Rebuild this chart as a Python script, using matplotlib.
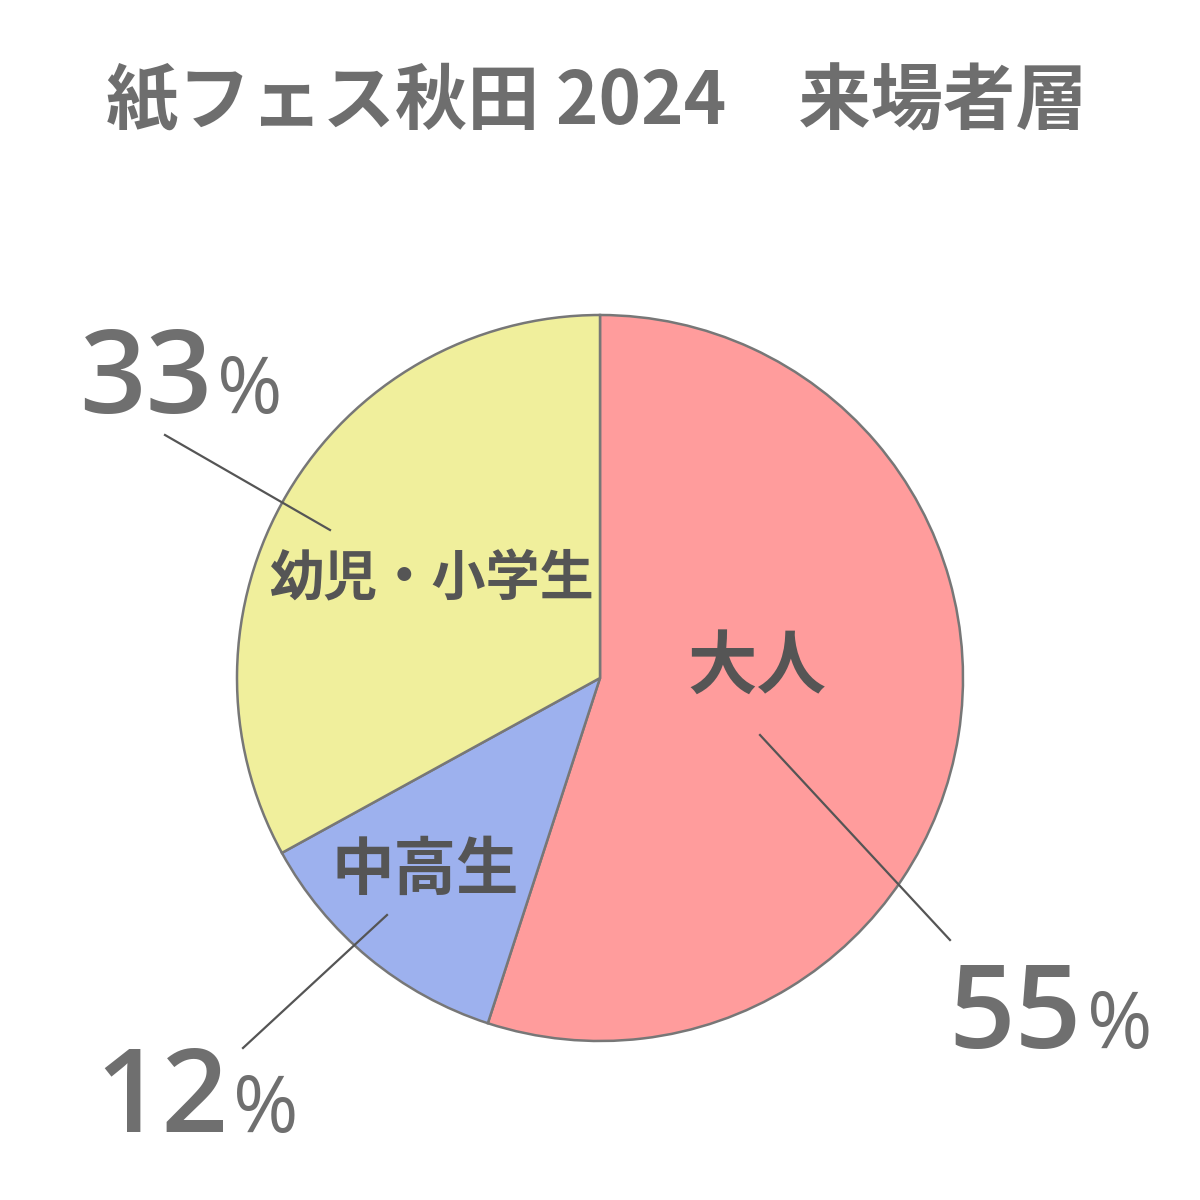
import matplotlib
matplotlib.use('Agg')
import matplotlib.pyplot as plt

# data
categories = ['大人', '中高生', '幼児・小学生']
shares = [55, 12, 33]
colors = ['#FF9C9C', '#9DB1EE', '#F0EF9C']
title = '紙フェス秋田 2024　来場者層'

H = 1200  # canvas in pixels, y measured from top


def Y(y):
    return H - y


fig = plt.figure(figsize=(12, 12), dpi=100)
ax = fig.add_axes([0, 0, 1, 1])

jp = ['Noto Sans CJK JP', 'DejaVu Sans']
num = ['Open Sans', 'DejaVu Sans']

ax.pie(shares, colors=colors, startangle=90, counterclock=False,
       center=(600, Y(678)), radius=363, frame=True,
       wedgeprops=dict(edgecolor='#777777', linewidth=1.8))
ax.set_xlim(0, 1200)
ax.set_ylim(0, 1200)
ax.set_aspect('equal')
ax.axis('off')

# title
ax.text(597, Y(103), title, ha='center', va='center', fontsize=52,
        family=jp, weight='bold', color='#6e6e6e')

# labels inside the slices
ax.text(757, Y(667), categories[0], ha='center', va='center', fontsize=50,
        family=jp, weight='bold', color='#555555')
ax.text(425, Y(870), categories[1], ha='center', va='center', fontsize=45,
        family=jp, weight='bold', color='#555555')
ax.text(431, Y(580), categories[2], ha='center', va='center', fontsize=39,
        family=jp, weight='bold', color='#555555')

# percentage labels: (right edge of digits, baseline)
pct_pos = [(1082, 1048), (228, 1132), (212, 413)]
for v, (x, y) in zip(shares, pct_pos):
    ax.text(x, Y(y), str(v), ha='right', va='baseline', fontsize=84,
            family=num, weight='semibold', color='#6f6f6f')
    ax.text(x + 5, Y(y), '%', ha='left', va='baseline', fontsize=57,
            family=num, weight='normal', color='#6f6f6f')

# leader lines
leaders = [((760, 735), (950, 940)), ((387, 915), (243, 1048)),
           ((330, 530), (165, 435))]
for (x0, y0), (x1, y1) in leaders:
    ax.plot([x0, x1], [Y(y0), Y(y1)], color='#555555', lw=1.6)

fig.savefig('out.png', dpi=100, facecolor='white')
